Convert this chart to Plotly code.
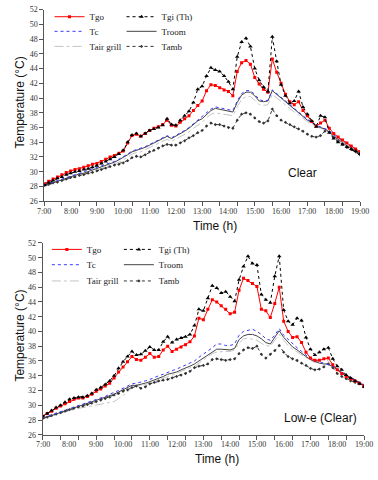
import plotly.graph_objects as go

# time grid, minutes after 7:00 (every 10 min up to 19:00)
minutes = list(range(0, 721, 10))
hours = [7 + m / 60 for m in minutes]

hour_ticks = [7, 8, 9, 10, 11, 12, 13, 14, 15, 16, 17, 18, 19]
hour_labels = ["7:00", "8:00", "9:00", "10:00", "11:00", "12:00", "13:00",
               "14:00", "15:00", "16:00", "17:00", "18:00", "19:00"]
temp_ticks = list(range(26, 53, 2))

# ---- Clear glazing (top) ----
tgo_clear = [
    28.4, 28.7, 29.0, 29.3, 29.6, 29.9,
    30.1, 30.3, 30.4, 30.6, 30.8, 31.0,
    31.1, 31.4, 31.7, 32.0, 32.2, 32.5,
    32.8, 33.9, 34.9, 35.1, 34.8, 35.2,
    35.6, 35.9, 36.1, 36.4, 37.0, 36.3,
    36.2, 36.7, 37.2, 37.6, 38.3, 39.0,
    39.6, 41.0, 41.8, 41.7, 41.4, 41.1,
    40.9, 40.3, 43.6, 44.8, 45.1, 44.6,
    42.8, 41.9, 41.2, 40.8, 45.3, 43.5,
    42.0, 40.5, 39.5, 39.1, 39.5, 38.3,
    37.6, 36.8, 36.2, 36.6, 37.0, 35.9,
    35.2, 34.7, 34.3, 33.9, 33.5, 33.1,
    32.7,
]
tgi_clear = [
    28.2, 28.5, 28.8, 29.1, 29.3, 29.6,
    29.8, 30.0, 30.1, 30.3, 30.4, 30.6,
    30.8, 31.1, 31.4, 31.7, 32.0, 32.4,
    32.9, 34.0, 35.0, 35.2, 34.8, 35.2,
    35.6, 35.8, 36.0, 36.3, 37.2, 36.4,
    36.3, 37.0, 37.6, 38.2, 39.4, 41.2,
    41.6, 43.0, 44.1, 43.8, 43.6, 43.0,
    42.2, 41.2, 45.6, 47.6, 48.1, 47.0,
    44.0, 42.4, 41.5, 40.9, 48.3, 45.0,
    41.8, 40.3, 39.3, 39.6, 40.9, 38.8,
    37.8, 36.9, 36.1, 37.6, 37.4, 35.3,
    34.5, 34.0, 33.7, 33.4, 33.1, 32.8,
    32.4,
]
tc_clear = [
    28.2, 28.4, 28.6, 28.8, 29.0, 29.2,
    29.4, 29.6, 29.8, 29.9, 30.1, 30.3,
    30.5, 30.7, 30.9, 31.1, 31.4, 31.7,
    32.0, 32.4, 32.8, 33.0, 33.1, 33.4,
    33.7, 34.0, 34.3, 34.6, 34.9, 34.6,
    34.9, 35.2, 35.6, 36.0, 36.5, 37.0,
    37.4, 38.0, 38.5, 38.8, 38.7, 38.6,
    38.5, 38.3, 39.6, 40.6, 41.0, 41.0,
    40.5, 39.8, 39.6, 39.7, 41.1, 40.6,
    40.1, 39.6, 39.0, 38.5, 38.1, 37.6,
    37.1, 36.8, 36.3, 36.1, 35.9, 35.6,
    35.0, 34.6, 34.1, 33.7, 33.4, 33.1,
    32.8,
]
troom_clear = [
    28.1, 28.3, 28.5, 28.7, 28.9, 29.1,
    29.3, 29.5, 29.7, 29.8, 30.0, 30.2,
    30.4, 30.6, 30.8, 31.0, 31.3, 31.6,
    31.9, 32.3, 32.7, 32.9, 33.0, 33.3,
    33.6, 33.9, 34.2, 34.5, 34.8, 34.5,
    34.8, 35.1, 35.5, 35.9, 36.4, 36.9,
    37.2, 37.8, 38.3, 38.6, 38.5, 38.4,
    38.3, 38.1, 39.4, 40.4, 40.8, 40.8,
    40.3, 39.6, 39.5, 39.6, 41.0, 40.5,
    40.0, 39.5, 38.9, 38.4, 38.0, 37.5,
    37.0, 36.7, 36.2, 36.0, 35.8, 35.4,
    34.8, 34.4, 33.9, 33.5, 33.2, 32.9,
    32.6,
]
tair_clear = [
    28.0, 28.2, 28.4, 28.6, 28.8, 29.0,
    29.2, 29.4, 29.5, 29.7, 29.8, 30.0,
    30.2, 30.4, 30.6, 30.8, 31.0, 31.3,
    31.6, 32.0, 32.4, 32.6, 32.7, 33.0,
    33.3, 33.5, 33.8, 34.1, 34.4, 34.1,
    34.4, 34.7, 35.0, 35.4, 35.9, 36.3,
    36.7, 37.3, 37.8, 38.0, 37.9, 37.8,
    37.7, 37.6, 38.8, 39.8, 40.2, 40.2,
    39.7, 39.1, 39.0, 39.1, 40.5, 40.0,
    39.5, 39.0, 38.5, 38.1, 37.7, 37.2,
    36.8, 36.5, 36.1, 35.9, 35.7, 35.4,
    34.8, 34.4, 34.0, 33.6, 33.3, 33.0,
    32.7,
]
tamb_clear = [
    28.1, 28.3, 28.5, 28.6, 28.8, 29.0,
    29.2, 29.3, 29.5, 29.6, 29.8, 29.9,
    30.1, 30.3, 30.5, 30.7, 30.9, 31.0,
    31.2, 31.5, 31.9, 32.1, 32.0, 32.3,
    32.7, 32.9, 33.2, 33.5, 33.7, 33.6,
    33.6, 33.9, 34.2, 34.6, 34.9, 35.3,
    35.6, 36.2, 36.6, 36.4, 36.4, 36.2,
    36.0, 35.9, 37.0, 37.8, 38.0, 37.8,
    37.3, 36.8, 36.6, 36.9, 38.5, 37.6,
    37.0, 36.7, 36.4, 36.1, 35.8, 35.5,
    35.1, 34.8, 34.7, 34.9, 35.5, 35.4,
    34.6, 34.1, 33.7, 33.3, 33.0, 32.7,
    32.3,
]

# ---- Low-e (Clear) glazing (bottom) ----
tgo_lowe = [
    28.5, 28.9, 29.2, 29.6, 29.9, 30.2,
    30.5, 30.8, 31.0, 31.0, 31.2, 31.5,
    31.9, 32.2, 32.6, 33.0, 33.7, 34.5,
    35.2, 35.9, 36.6, 36.2, 36.1, 36.5,
    37.0, 36.5, 36.6, 37.5, 38.0, 37.3,
    37.6, 37.9, 38.2, 38.6, 39.4, 41.8,
    41.6, 43.0, 44.3, 44.0, 43.5, 43.0,
    42.4, 42.6, 45.6, 47.2, 46.9, 46.5,
    46.1, 43.0, 42.8, 41.9, 43.8, 46.0,
    41.4, 40.0, 39.2, 39.3, 38.5, 37.2,
    36.4, 36.1, 36.1, 36.3, 36.4, 35.5,
    34.8, 34.3, 33.9, 33.6, 33.3, 33.0,
    32.6,
]
tgi_lowe = [
    28.5, 28.9, 29.3, 29.7, 30.0, 30.4,
    30.8, 31.0, 31.1, 31.1, 31.3, 31.6,
    32.1, 32.4, 32.8, 33.3, 34.0, 35.0,
    35.9, 36.6, 37.3, 36.8, 36.9, 37.4,
    37.9, 37.5, 37.5, 38.6, 39.3, 38.5,
    38.9, 39.1, 39.3, 39.6, 40.8, 43.0,
    42.8, 44.5, 46.2, 45.9, 45.2, 45.4,
    44.7, 44.1, 47.0, 48.8, 50.2, 49.2,
    49.0, 45.0, 44.3, 43.9, 47.5, 50.2,
    42.9, 41.4, 40.9, 41.8, 41.5, 39.2,
    37.6, 36.8, 37.2, 37.6, 37.8, 36.3,
    35.3, 34.8, 34.1, 33.7, 33.3, 32.9,
    32.5,
]
tc_lowe = [
    28.3, 28.5, 28.7, 28.9, 29.1, 29.4,
    29.6, 29.8, 30.0, 30.2, 30.4, 30.6,
    30.8, 31.0, 31.2, 31.5, 31.7, 32.0,
    32.3, 32.6, 32.9, 33.0, 33.1, 33.3,
    33.5, 33.8, 34.0, 34.2, 34.5, 34.7,
    34.9, 35.2, 35.5, 35.7, 36.0, 36.5,
    36.9, 37.3, 37.8, 38.3, 38.3, 38.1,
    38.1, 38.3, 39.5, 40.0, 40.2, 40.3,
    40.0, 39.6, 39.0, 38.8, 39.5, 40.4,
    39.5, 38.9, 38.3, 37.8, 37.3, 36.8,
    36.3, 36.1, 35.9, 35.8, 35.6, 35.3,
    34.9, 34.5, 34.0, 33.8, 33.5, 33.2,
    32.8,
]
troom_lowe = [
    28.2, 28.4, 28.6, 28.8, 29.0, 29.2,
    29.4, 29.6, 29.8, 30.0, 30.2, 30.4,
    30.6, 30.8, 31.0, 31.2, 31.5, 31.8,
    32.1, 32.4, 32.7, 32.7, 32.8, 33.0,
    33.2, 33.4, 33.6, 33.9, 34.2, 34.3,
    34.5, 34.8, 35.0, 35.3, 35.6, 36.0,
    36.4, 36.8, 37.3, 37.6, 37.6, 37.5,
    37.5, 37.7, 38.9, 39.4, 39.6, 39.6,
    39.4, 39.0, 38.5, 38.3, 39.2, 40.1,
    39.2, 38.5, 37.9, 37.5, 37.0, 36.6,
    36.2, 35.9, 35.7, 35.6, 35.6, 35.2,
    34.8, 34.4, 34.0, 33.7, 33.4, 33.1,
    32.7,
]
tair_lowe = [
    28.2, 28.4, 28.6, 28.8, 29.0, 29.1,
    29.3, 29.4, 29.6, 29.7, 29.8, 29.9,
    30.0, 30.1, 30.2, 30.4, 30.5, 30.9,
    31.3, 31.8, 32.4, 32.6, 32.7, 32.8,
    33.0, 33.2, 33.4, 33.6, 33.9, 34.0,
    34.3, 34.6, 34.8, 35.0, 35.3, 35.7,
    36.1, 36.5, 37.0, 37.2, 37.3, 37.3,
    37.3, 37.5, 38.4, 39.0, 39.1, 39.0,
    38.8, 38.4, 38.1, 38.0, 38.8, 39.6,
    38.8, 38.1, 37.6, 37.2, 36.8, 36.4,
    36.1, 35.8, 35.9, 36.3, 36.0, 35.2,
    34.8, 34.3, 34.0, 33.7, 33.4, 33.1,
    32.7,
]
tamb_lowe = [
    28.2, 28.4, 28.6, 28.8, 29.0, 29.2,
    29.4, 29.6, 29.8, 29.9, 30.1, 30.3,
    30.5, 30.7, 30.9, 31.1, 31.4, 31.6,
    31.9, 32.1, 32.4, 32.6, 32.3, 32.5,
    32.9, 33.1, 33.3, 33.4, 33.5, 33.7,
    33.9, 34.1, 34.3, 34.6, 35.1, 35.3,
    35.4, 35.6, 36.2, 36.3, 36.2, 36.1,
    36.2, 36.3, 37.0, 37.5, 37.8, 37.7,
    38.0, 36.9, 36.4, 36.9, 37.4, 38.1,
    37.2, 36.6, 36.3, 36.1, 35.7, 35.4,
    35.0, 34.8, 34.9, 35.2, 35.6, 35.1,
    34.3, 33.9, 33.6, 33.3, 33.1, 32.9,
    32.5,
]

SERIF = "Liberation Serif, Times New Roman, serif"
SANS = "Liberation Sans, Arial, sans-serif"

# drawing order (bottom to top) and style of each series
STYLES = [
    ("Tair grill", dict(mode="lines", line=dict(color="#c4c4c4", width=1, dash="dashdot"))),
    ("Tamb", dict(mode="lines+markers", line=dict(color="#333333", width=1, dash="dot"),
                  marker=dict(symbol="diamond", size=2.5, color="#333333"))),
    ("Troom", dict(mode="lines", line=dict(color="#444444", width=1))),
    ("Tc", dict(mode="lines", line=dict(color="#3a3aff", width=1, dash="dot"))),
    ("Tgo", dict(mode="lines+markers", line=dict(color="#ff0000", width=1),
                 marker=dict(symbol="square", size=3, color="#ff0000"))),
    ("Tgi (Th)", dict(mode="lines+markers", line=dict(color="#000000", width=1, dash="dot"),
                      marker=dict(symbol="triangle-up", size=4, color="#000000"))),
]
LEGEND_ROW = {"Tgo": 0, "Tgi (Th)": 0, "Tc": 1, "Troom": 1, "Tair grill": 2, "Tamb": 2}
LEGEND_RANK = {"Tgo": 1, "Tgi (Th)": 2, "Tc": 1, "Troom": 2, "Tair grill": 1, "Tamb": 2}

panels = [
    dict(xa="x", ya="y", legends=["legend", "legend2", "legend3"],
         data={"Tgo": tgo_clear, "Tgi (Th)": tgi_clear, "Tc": tc_clear,
               "Troom": troom_clear, "Tair grill": tair_clear, "Tamb": tamb_clear}),
    dict(xa="x2", ya="y2", legends=["legend4", "legend5", "legend6"],
         data={"Tgo": tgo_lowe, "Tgi (Th)": tgi_lowe, "Tc": tc_lowe,
               "Troom": troom_lowe, "Tair grill": tair_lowe, "Tamb": tamb_lowe}),
]

fig = go.Figure()
for p in panels:
    for name, style in STYLES:
        fig.add_trace(go.Scatter(
            x=hours, y=p["data"][name], name=name,
            xaxis=p["xa"], yaxis=p["ya"],
            legend=p["legends"][LEGEND_ROW[name]],
            legendrank=LEGEND_RANK[name],
            **style,
        ))

# small ticks every 40 minutes, labels every hour
minor_ticks = [7 + 2 * k / 3 for k in range(19)]
axis_col = "#555555"


def xaxis(domain, anchor):
    return dict(domain=domain, anchor=anchor, range=[7, 19], showgrid=False, zeroline=False,
                showline=True, linecolor=axis_col, linewidth=1,
                tickmode="array", tickvals=minor_ticks, ticks="outside", ticklen=4,
                tickcolor=axis_col, showticklabels=False)


def yaxis(domain, anchor):
    return dict(domain=domain, anchor=anchor, range=[26, 52], showgrid=False, zeroline=False,
                showline=True, linecolor=axis_col, linewidth=1,
                tickmode="array", tickvals=temp_ticks, ticks="outside", ticklen=4,
                tickcolor=axis_col, tickfont=dict(family=SERIF, size=8, color="#333"))


def legend_row(x, y):
    return dict(orientation="h", x=x, y=y, xanchor="left", yanchor="middle",
                font=dict(family=SERIF, size=9, color="#222"), bgcolor="rgba(0,0,0,0)",
                entrywidth=27, itemwidth=30, traceorder="normal", borderwidth=0)


def label(text, x, y, **kw):
    return dict(text=text, x=x, y=y, xref="paper", yref="paper", showarrow=False,
                xanchor="center", yanchor="middle", **kw)


annotations = []
for xref, ylab in (("x", 0.5594), ("x2", 0.0646)):
    for v, lab in zip(hour_ticks, hour_labels):
        annotations.append(dict(text=lab, x=v, xref=xref, y=ylab, yref="paper",
                                showarrow=False, xanchor="center", yanchor="middle",
                                font=dict(family=SERIF, size=8, color="#333")))

title_font = dict(family=SANS, size=12, color="#111")
annotations += [
    label("Time (h)", 0.569, 0.529, font=title_font),
    label("Time (h)", 0.574, 0.033, font=title_font),
    label("Temperature (°C)", 0.053, 0.791, textangle=-90, font=title_font),
    label("Temperature (°C)", 0.053, 0.296, textangle=-90, font=title_font),
    label("Clear", 0.799, 0.642, font=title_font),
    label("Low-e (Clear)", 0.847, 0.121, font=title_font),
]

fig.update_layout(
    width=378, height=480,
    margin=dict(l=0, r=0, t=0, b=0),
    paper_bgcolor="white", plot_bgcolor="white",
    showlegend=True,
    xaxis=xaxis([0.1172, 0.9524], "y"),
    yaxis=yaxis([0.5813, 0.9881], "x"),
    xaxis2=xaxis([0.113, 0.963], "y2"),
    yaxis2=yaxis([0.0854, 0.4927], "x2"),
    legend=legend_row(0.131, 0.973),
    legend2=legend_row(0.131, 0.942),
    legend3=legend_row(0.131, 0.910),
    legend4=legend_row(0.124, 0.479),
    legend5=legend_row(0.124, 0.4465),
    legend6=legend_row(0.124, 0.412),
    annotations=annotations,
)

# page body has a default 8px margin; drop it so the figure fills the window
fig.write_html("out.html", config={"displayModeBar": False},
               post_script="document.body.style.margin='0px';")
